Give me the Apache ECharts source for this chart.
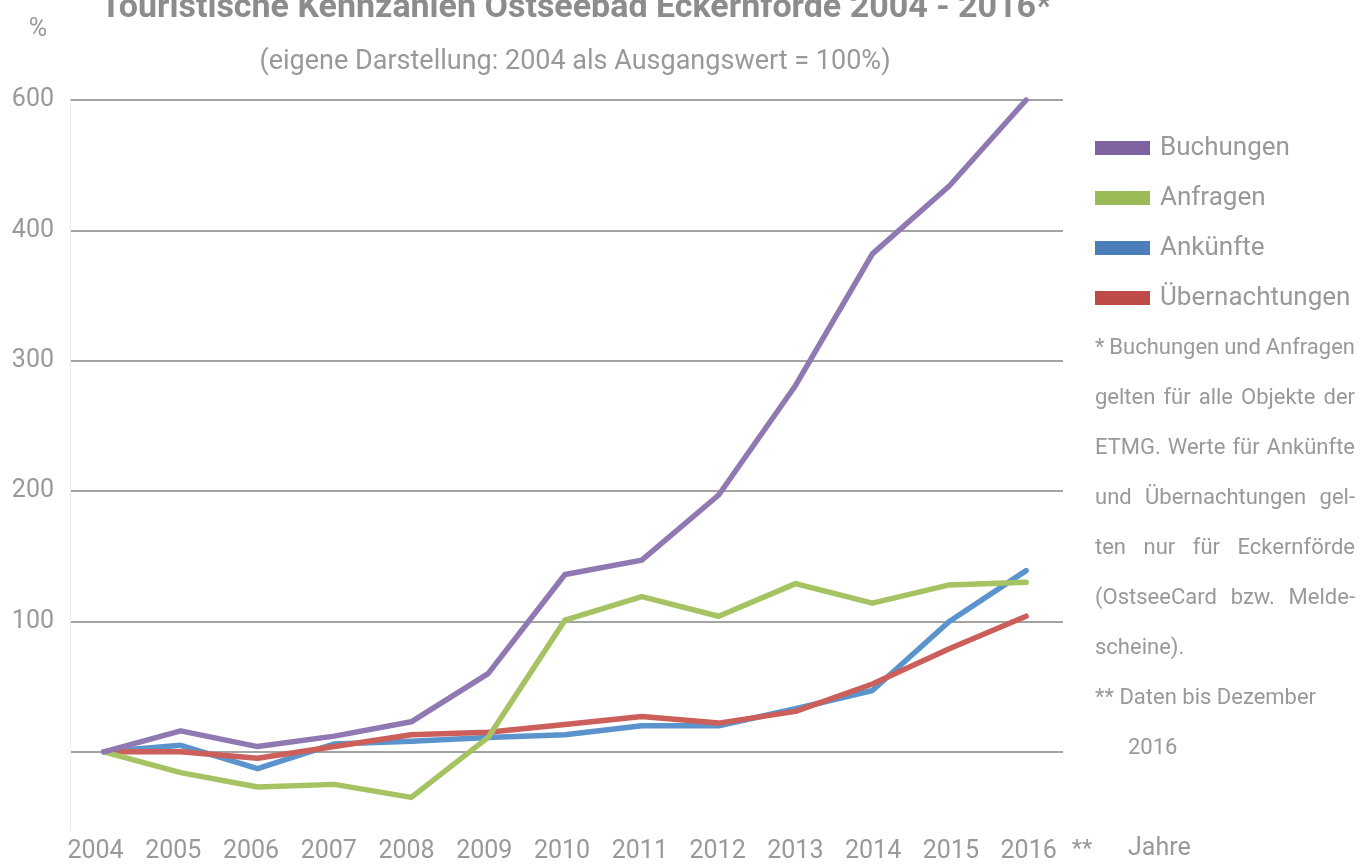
<!DOCTYPE html>
<html>
<head>
<meta charset="utf-8">
<title>Touristische Kennzahlen Eckernförde</title>
<script src="https://cdn.jsdelivr.net/npm/echarts@6/dist/echarts.min.js"></script>
<style>
    html, body { margin: 0; padding: 0; background: #fff; }
    #chart { width: 1361px; height: 865px; }
</style>
</head>
<body>
<div id="chart"></div>
<script>
// Daten (2004 = Ausgangswert)
var years = [2004, 2005, 2006, 2007, 2008, 2009, 2010, 2011, 2012, 2013, 2014, 2015, 2016];
var buchungen = [0, 16, 4, 12, 23, 60, 136, 147, 197, 281, 382, 434, 500];
var anfragen = [0, -16, -27, -25, -35, 11, 101, 119, 104, 129, 114, 128, 130];
var ankuenfte = [0, 5, -13, 6, 8, 11, 13, 20, 20, 33, 47, 100, 139];
var uebernachtungen = [0, 0, -5, 4, 13, 15, 21, 27, 22, 31, 52, 79, 104];
var yTicks = [100, 200, 300, 400, 500];
var gridValues = [0, 100, 200, 300, 400, 500];
var footLines = [
    '* Buchungen und Anfragen',
    'gelten für alle Objekte der',
    'ETMG. Werte für Ankünfte',
    'und Übernachtungen gel-',
    'ten nur für Eckernförde',
    '(OstseeCard bzw. Melde-',
    'scheine).',
    '** Daten bis Dezember',
    '2016'
];

var FONT = 'Roboto';
var GREY = '#999999';

function pairs(vals) {
    var out = [];
    for (var i = 0; i < years.length; i++) {
        out.push([years[i], vals[i]]);
    }
    return out;
}

// Blocksatz fuer die Fussnote (Woerter einzeln setzen)
function footnote() {
    var ctx = document.createElement('canvas').getContext('2d');
    var size = 22;
    ctx.font = size + 'px ' + FONT;
    var left = 1095, right = 1355, top = 348, step = 50;
    var els = [];
    for (var i = 0; i < footLines.length; i++) {
        var y = top + i * step;
        var justify = i < 6;
        var x0 = i == 8 ? 1128 : left;
        if (!justify) {
            els.push({
                type: 'text',
                style: { x: x0, y: y, text: footLines[i], fontSize: size, fontFamily: FONT, fill: GREY, verticalAlign: 'middle' }
            });
            continue;
        }
        var words = footLines[i].split(' ');
        var total = 0;
        for (var k = 0; k < words.length; k++) total += ctx.measureText(words[k]).width;
        var gap = (right - left - total) / (words.length - 1);
        var x = left;
        for (var k = 0; k < words.length; k++) {
            els.push({
                type: 'text',
                style: { x: x, y: y, text: words[k], fontSize: size, fontFamily: FONT, fill: GREY, verticalAlign: 'middle' }
            });
            x += ctx.measureText(words[k]).width + gap;
        }
    }
    return els;
}

var chart = echarts.init(document.getElementById('chart'));

function line(name, vals, lineColor, legendColor) {
    return {
        name: name,
        type: 'line',
        xAxisIndex: 0,
        data: pairs(vals),
        symbol: 'none',
        smooth: false,
        itemStyle: { color: legendColor },
        lineStyle: { color: lineColor, width: 5.5, cap: 'round', join: 'round' }
    };
}

var graphics = [
    {
        type: 'text',
        style: { x: 576, y: 8, text: 'Touristische Kennzahlen Ostseebad Eckernförde 2004 - 2016*', fontSize: 34, fontWeight: 'bold', fontFamily: FONT, fill: '#8c8c8c', align: 'center', verticalAlign: 'middle' }
    },
    {
        type: 'text',
        style: { x: 575, y: 62, text: '(eigene Darstellung: 2004 als Ausgangswert = 100%)', fontSize: 27, fontFamily: FONT, fill: GREY, align: 'center', verticalAlign: 'middle' }
    },
    {
        type: 'text',
        style: { x: 38, y: 30, text: '%', fontSize: 25, fontFamily: FONT, fill: GREY, align: 'center', verticalAlign: 'middle' }
    },
    {
        type: 'text',
        style: { x: 1082, y: 850, text: '**', fontSize: 24, fontFamily: FONT, fill: GREY, align: 'center', verticalAlign: 'middle' }
    },
    {
        type: 'text',
        style: { x: 1128, y: 849, text: 'Jahre', fontSize: 25, fontFamily: FONT, fill: GREY, verticalAlign: 'middle' }
    }
].concat(footnote());

var option = {
    backgroundColor: '#ffffff',
    animation: false,
    textStyle: { fontFamily: FONT },
    grid: { left: 70, right: 298, top: 100, bottom: 35, containLabel: false },
    legend: {
        orient: 'vertical',
        left: 1095,
        top: 135,
        padding: 0,
        itemWidth: 55,
        itemHeight: 14,
        itemGap: 24,
        icon: 'rect',
        data: ['Buchungen', 'Anfragen', 'Ankünfte', 'Übernachtungen'],
        textStyle: { fontSize: 26, color: GREY, fontFamily: FONT, padding: [0, 0, 0, 5] }
    },
    xAxis: [
        {
            type: 'value',
            min: 2003.56,
            max: 2016.48,
            axisLine: { show: false },
            axisTick: { show: false },
            axisLabel: { show: false },
            splitLine: { show: false }
        },
        {
            // nur fuer die Jahresbeschriftung
            type: 'value',
            position: 'bottom',
            min: 2003.672,
            max: 2016.442,
            axisLine: { show: false },
            axisTick: { show: false },
            splitLine: { show: false },
            axisLabel: {
                customValues: years,
                fontSize: 25,
                color: GREY,
                margin: 9,
                formatter: function (v) { return String(v); }
            }
        }
    ],
    yAxis: {
        type: 'value',
        min: -60,
        max: 500,
        axisLine: { show: true, lineStyle: { color: '#ededed', width: 1 } },
        axisTick: { show: false, customValues: gridValues },
        axisLabel: {
            customValues: yTicks,
            fontSize: 25,
            color: GREY,
            margin: 16,
            formatter: function (v) { return v == 500 ? '600' : String(v); }
        },
        splitLine: { show: true, lineStyle: { color: '#a3a3a3', width: 2 } }
    },
    series: [
        line('Ankünfte', ankuenfte, '#5b94cd', '#4a7ebb'),
        line('Übernachtungen', uebernachtungen, '#cc5f5a', '#be4b48'),
        line('Anfragen', anfragen, '#a6c363', '#9bbb59'),
        line('Buchungen', buchungen, '#9079b2', '#7f62a0')
    ],
    graphic: graphics
};

chart.setOption(option);
</script>
</body>
</html>
